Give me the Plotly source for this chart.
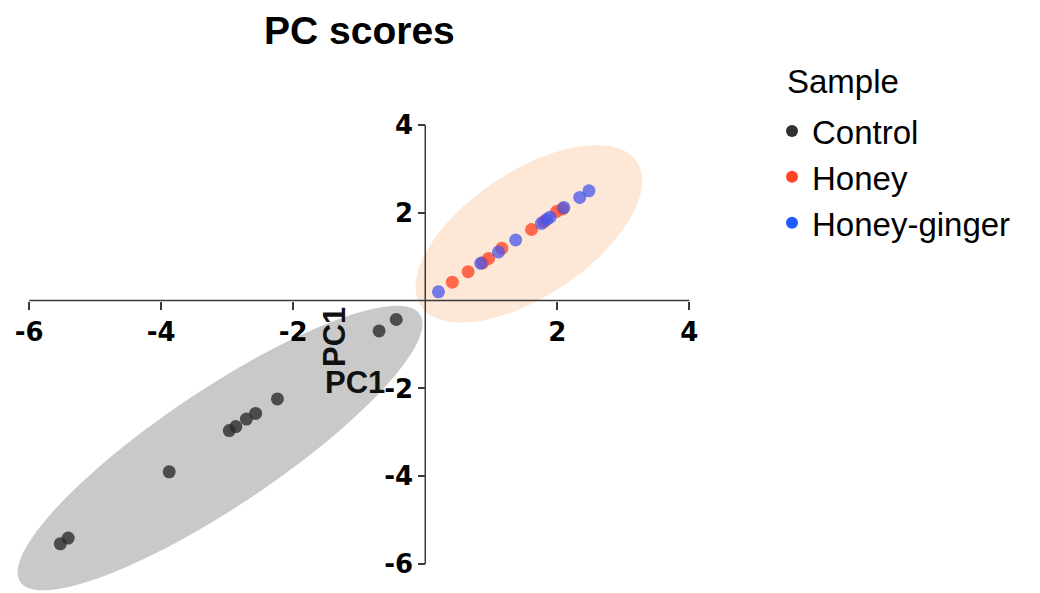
import numpy as np
import plotly.graph_objects as go

# ---- data ----
groups = ["Control", "Honey", "Honey-ginger"]
control_pc1 = [-0.44, -0.70, -2.24, -2.57, -2.71, -2.87, -2.97, -3.88, -5.41, -5.53]
control_pc2 = [-0.43, -0.69, -2.24, -2.57, -2.70, -2.87, -2.96, -3.90, -5.41, -5.54]
honey_pc1 = [0.41, 0.65, 0.87, 0.96, 1.16, 1.61, 1.80, 1.99, 2.08]
honey_pc2 = [0.42, 0.66, 0.86, 0.96, 1.19, 1.62, 1.80, 2.03, 2.09]
ginger_pc1 = [0.20, 0.84, 1.11, 1.37, 1.76, 1.84, 1.89, 2.10, 2.34, 2.48]
ginger_pc2 = [0.20, 0.85, 1.11, 1.38, 1.76, 1.85, 1.90, 2.12, 2.35, 2.50]

# ellipse parameters in data units: centre x, centre y, semi-major, semi-minor, angle (deg)
control_ellipse = [-3.11, -3.36, 4.32, 1.12, 46.8]
honey_ellipse = [1.57, 1.52, 2.38, 1.17, 52.7]

tick_vals = [-6, -4, -2, 2, 4]
tick_text = ["-6", "-4", "-2", "2", "4"]

# ---- styling ----
legend_colors = ["#313131", "#ff4424", "#1f5cff"]
point_colors = ["rgba(45,45,45,0.8)", "rgba(255,72,40,0.8)", "rgba(70,85,235,0.75)"]
ellipse_fill = ["#c9c9c9", "#fde7d6"]

OFF = 8  # page body margin
x_range = [-6.292, 4.314]
y_range = [-6.661, 4.342]
W, H = 1040 - OFF, 593 - OFF
L, T, B = 10 - OFF, 110 - OFF, 0
R = W - (710 - OFF)
pw, ph = W - L - R, H - T - B


def ellipse_path(p, n=120):
    cx, cy, a, b, ang = p
    t = np.linspace(0, 2 * np.pi, n)
    th = np.deg2rad(ang)
    xs = cx + a * np.cos(t) * np.cos(th) - b * np.sin(t) * np.sin(th)
    ys = cy + a * np.cos(t) * np.sin(th) + b * np.sin(t) * np.cos(th)
    pts = " L ".join(f"{x:.4f},{y:.4f}" for x, y in zip(xs, ys))
    return "M " + pts + " Z"


fig = go.Figure()

series = [(control_pc1, control_pc2), (honey_pc1, honey_pc2), (ginger_pc1, ginger_pc2)]
for i, (xs, ys) in enumerate(series):
    fig.add_trace(go.Scatter(
        x=xs, y=ys, mode="markers", showlegend=False, name=groups[i],
        marker=dict(size=13, color=point_colors[i], line=dict(width=0)),
        cliponaxis=False,
    ))
for i, g in enumerate(groups):
    fig.add_trace(go.Scatter(
        x=[None], y=[None], mode="markers", name=g, showlegend=True,
        marker=dict(size=12, color=legend_colors[i]),
    ))

shapes = []
for p, c in zip([control_ellipse, honey_ellipse], ellipse_fill):
    shapes.append(dict(type="path", xref="x", yref="y", path=ellipse_path(p),
                       fillcolor=c, line=dict(width=0), layer="below"))
axis_col = "#3a3a3a"
shapes.append(dict(type="line", xref="x", yref="y", x0=-6, x1=4, y0=0, y1=0,
                   line=dict(color=axis_col, width=1.5), layer="below"))
shapes.append(dict(type="line", xref="x", yref="y", x0=0, x1=0, y0=-6, y1=4,
                   line=dict(color=axis_col, width=1.5), layer="below"))

xpos = (0 - y_range[0]) / (y_range[1] - y_range[0])
ypos = (0 - x_range[0]) / (x_range[1] - x_range[0])

tickfont = dict(family="DejaVu Sans", size=26, color="black", weight="bold")


def px2paper(px, py):
    return (px - OFF - L) / pw, (H - (py - OFF)) / ph


annotations = []
tx, ty = px2paper(359, 30)
annotations.append(dict(text="PC scores", x=tx, y=ty, xref="paper", yref="paper",
                        showarrow=False, xanchor="center", yanchor="middle",
                        font=dict(family="Liberation Sans", size=39, color="black", weight="bold")))
ax_font = dict(family="Liberation Sans", size=31, color="#111111", weight="bold")
hx, hy = px2paper(355, 382)
annotations.append(dict(text="PC1", x=hx, y=hy, xref="paper", yref="paper", showarrow=False,
                        xanchor="center", yanchor="middle", font=ax_font))
vx, vy = px2paper(334, 337)
annotations.append(dict(text="PC1", x=vx, y=vy, xref="paper", yref="paper", showarrow=False,
                        xanchor="center", yanchor="middle", textangle=-90, font=ax_font))
sx, sy = px2paper(785, 82)
annotations.append(dict(text="Sample", x=sx, y=sy, xref="paper", yref="paper", showarrow=False,
                        xanchor="left", yanchor="middle",
                        font=dict(family="Liberation Sans", size=33, color="black")))

lx, ly = px2paper(772, 103)

fig.update_layout(
    width=W, height=H,
    margin=dict(l=L, r=R, t=T, b=B, autoexpand=False),
    paper_bgcolor="white", plot_bgcolor="white",
    shapes=shapes, annotations=annotations,
    xaxis=dict(range=x_range, anchor="free", position=xpos, showgrid=False, zeroline=False,
               showline=False, ticks="outside", ticklen=8, tickwidth=1.5, tickcolor=axis_col,
               tickvals=tick_vals, ticktext=tick_text, tickfont=tickfont),
    yaxis=dict(range=y_range, anchor="free", position=ypos, showgrid=False, zeroline=False,
               showline=False, ticks="outside", ticklen=7, tickwidth=1.5, tickcolor=axis_col,
               tickvals=tick_vals, ticktext=tick_text, tickfont=tickfont),
    legend=dict(x=lx, y=ly, xanchor="left", yanchor="top",
                font=dict(family="Liberation Sans", size=33, color="black"),
                bgcolor="rgba(0,0,0,0)"),
)

fig.write_html("out.html")
